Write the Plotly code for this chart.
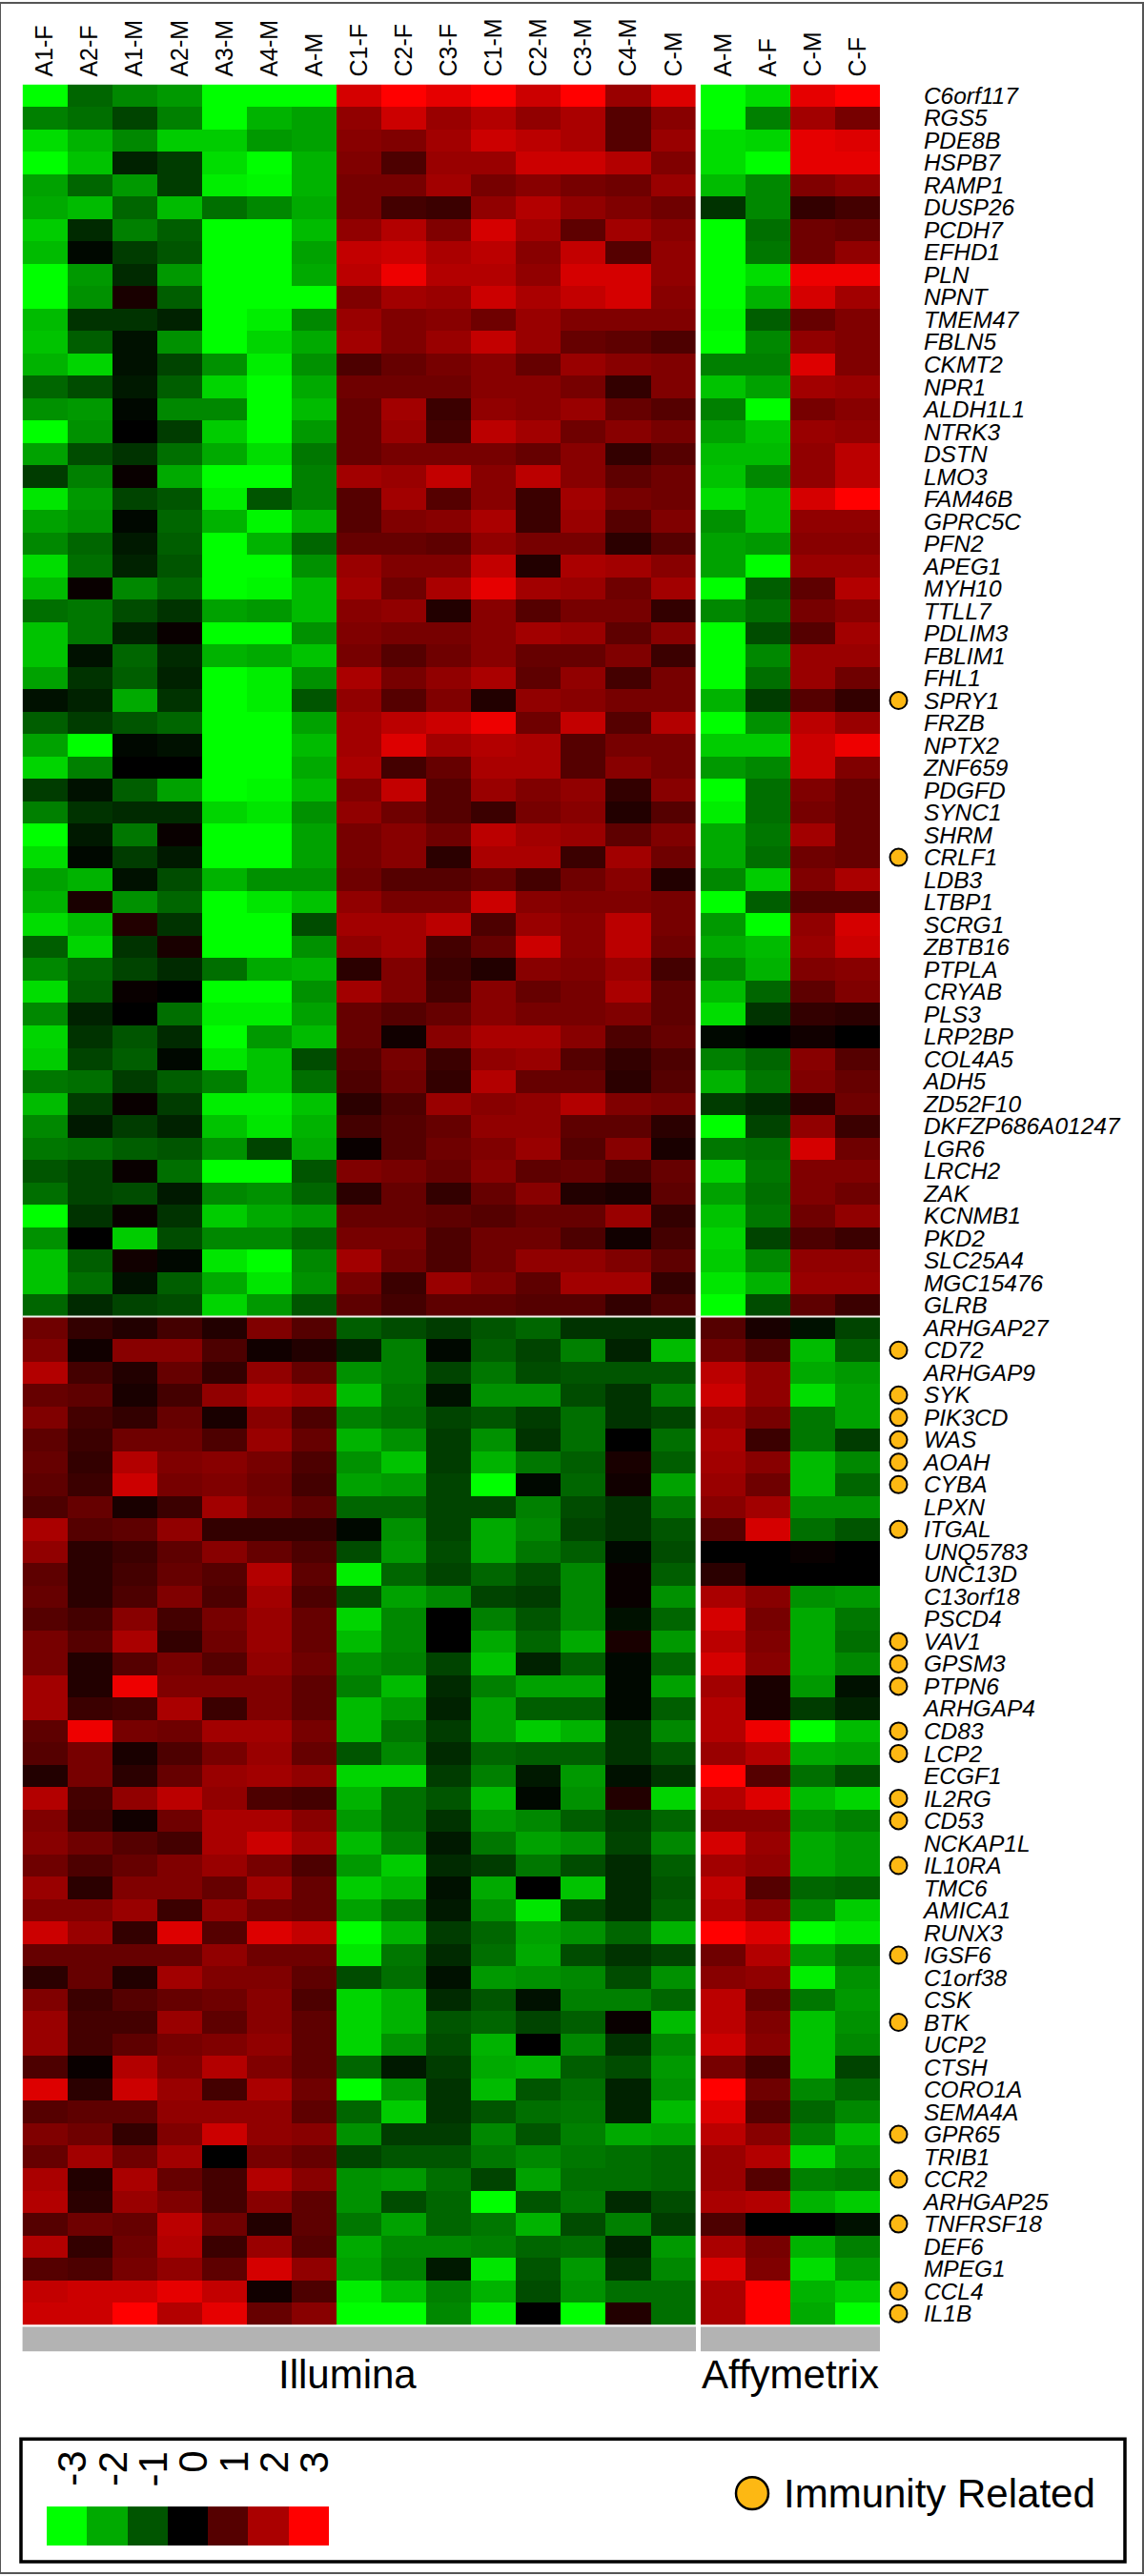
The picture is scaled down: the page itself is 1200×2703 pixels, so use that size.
import plotly.graph_objects as go

W, H = 1200, 2703

illumina_cols = ["A1-F", "A2-F", "A1-M", "A2-M", "A3-M", "A4-M", "A-M", "C1-F", "C2-F", "C3-F", "C1-M", "C2-M", "C3-M", "C4-M", "C-M"]
affy_cols = ["A-M", "A-F", "C-M", "C-F"]

genes_top = ["C6orf117", "RGS5", "PDE8B", "HSPB7", "RAMP1", "DUSP26", "PCDH7", "EFHD1", "PLN", "NPNT", "TMEM47", "FBLN5", "CKMT2", "NPR1", "ALDH1L1", "NTRK3", "DSTN", "LMO3", "FAM46B", "GPRC5C", "PFN2", "APEG1", "MYH10", "TTLL7", "PDLIM3", "FBLIM1", "FHL1", "SPRY1", "FRZB", "NPTX2", "ZNF659", "PDGFD", "SYNC1", "SHRM", "CRLF1", "LDB3", "LTBP1", "SCRG1", "ZBTB16", "PTPLA", "CRYAB", "PLS3", "LRP2BP", "COL4A5", "ADH5", "ZD52F10", "DKFZP686A01247", "LGR6", "LRCH2", "ZAK", "KCNMB1", "PKD2", "SLC25A4", "MGC15476", "GLRB"]
genes_bottom = ["ARHGAP27", "CD72", "ARHGAP9", "SYK", "PIK3CD", "WAS", "AOAH", "CYBA", "LPXN", "ITGAL", "UNQ5783", "UNC13D", "C13orf18", "PSCD4", "VAV1", "GPSM3", "PTPN6", "ARHGAP4", "CD83", "LCP2", "ECGF1", "IL2RG", "CD53", "NCKAP1L", "IL10RA", "TMC6", "AMICA1", "RUNX3", "IGSF6", "C1orf38", "CSK", "BTK", "UCP2", "CTSH", "CORO1A", "SEMA4A", "GPR65", "TRIB1", "CCR2", "ARHGAP25", "TNFRSF18", "DEF6", "MPEG1", "CCL4", "IL1B"]
immunity_genes = ["SPRY1", "CRLF1", "CD72", "SYK", "PIK3CD", "WAS", "AOAH", "CYBA", "ITGAL", "VAV1", "GPSM3", "PTPN6", "CD83", "LCP2", "IL2RG", "CD53", "IL10RA", "IGSF6", "BTK", "GPR65", "CCR2", "TNFRSF18", "CCL4", "IL1B"]

illumina_top = [
[-3,-1.2,-1.6,-1.8,-3,-3,-3,2.5,3,2.7,3,2.4,3,1.8,2.6],
[-1.5,-1.3,-0.8,-1.5,-3,-2.1,-1.9,1.7,2.4,1.8,2.1,1.7,2,1,1.6],
[-2.6,-2.1,-1.6,-2.4,-2.4,-1.8,-1.9,1.6,1.5,1.9,2.4,2.2,2,1,1.8],
[-3,-2.3,-0.4,-0.7,-2.6,-3,-2.1,1.5,0.9,1.8,1.8,2.4,2.4,2.1,1.5],
[-1.9,-1.2,-1.8,-0.7,-2.8,-2.9,-2.1,1.4,1.4,1.9,1.4,1.6,1.4,1.3,1.8],
[-2,-2.2,-1.2,-2.2,-1.3,-1.6,-2,1.4,0.8,0.7,1.7,2.1,1.7,1.5,1.3],
[-2.4,-0.5,-1.5,-1.1,-3,-3,-2.2,1.7,2.1,1.5,2.5,1.9,1.1,1.9,1.6],
[-2.2,-0.1,-0.7,-1,-3,-3,-1.9,2.3,2.4,2,2.2,1.6,2.3,1,1.7],
[-3,-1.8,-0.5,-1.8,-3,-3,-2,2.2,2.8,2.1,2.1,1.7,2.5,2.5,1.7],
[-3,-1.7,0.3,-1.1,-3,-3,-3,1.5,1.9,1.8,2.4,2,2.3,2.5,1.6],
[-2.2,-0.6,-0.6,-0.4,-3,-2.8,-1.6,1.8,1.5,1.6,1.3,1.8,1.5,1.5,1.5],
[-2.3,-1.1,-0.2,-1.7,-3,-2.5,-2,1.9,1.5,1.8,2.3,1.8,1.2,1.1,0.9],
[-2.1,-2.5,-0.2,-0.8,-1.7,-2.8,-1.7,0.9,1.2,1.4,1.6,1.2,1.8,1.6,1.5],
[-1.2,-0.9,-0.3,-1.1,-2.5,-3,-2,1.3,1.3,1.3,1.6,1.6,1.4,0.6,1.5],
[-1.7,-1.8,-0.1,-1.6,-1.6,-3,-2.2,1.2,1.9,0.7,1.7,1.6,1.8,1.2,1],
[-3,-1.7,0,-0.7,-2.4,-3,-1.8,1.2,1.8,0.8,2.2,1.9,1.3,1.6,1.4],
[-1.9,-0.9,-0.6,-1.3,-2,-2.6,-1.4,1.2,1.4,1.4,1.4,1.2,1.6,0.6,1],
[-0.7,-1.5,0.1,-2,-3,-3,-1.5,1.9,1.8,2.3,1.6,2.2,1.6,1.1,1.3],
[-2.7,-1.8,-0.8,-1,-2.8,-1,-1.5,1,1.9,1,1.6,0.7,1.9,1.4,1.3],
[-1.9,-1.7,-0.1,-1.2,-2.1,-2.9,-2.1,1,1.5,1.6,2,0.7,1.8,1,1.5],
[-1.6,-1.2,-0.3,-1.1,-3,-2.1,-1.2,1.2,1.2,1.1,1.7,1.4,1.4,0.5,1],
[-2.6,-1.3,-0.4,-1,-3,-3,-1.7,1.8,1.5,1.5,2.3,0.4,2,1.9,1.6],
[-2.2,0.1,-1.6,-1.2,-3,-2.9,-2.2,1.9,1.3,2,2.7,1.9,1.8,1.3,1.9],
[-1.3,-1.4,-0.9,-0.6,-1.9,-1.8,-2.2,1.6,1.7,0.4,1.6,1,1.4,1.4,0.6],
[-2.3,-1.4,-0.4,0.1,-3,-3,-1.7,1.5,1.4,1.4,1.6,1.9,1.8,1.1,1.6],
[-2.3,-0.2,-1.2,-0.5,-2.1,-2,-2.3,1.4,1,1.3,1.6,1.2,1.2,1.5,0.7],
[-1.9,-0.6,-1.1,-0.4,-3,-2.8,-1.7,2,1.4,1.7,2,1.1,1.7,0.8,1.4],
[-0.2,-0.4,-2,-0.6,-3,-2.8,-1,1.7,1,1.5,0.4,1.7,1.6,1.4,1.4],
[-1.1,-0.7,-1,-1.2,-3,-3,-1.9,1.9,2.2,2.4,2.8,1.3,2.3,1,2.1],
[-1.9,-3,-0.1,-0.2,-3,-3,-2.2,1.9,2.6,1.9,2.1,2,1,1.4,1.4],
[-2.5,-1.5,0,0,-3,-3,-2,2,0.8,1.2,2,2,1,1.6,1.4],
[-0.7,-0.2,-1.1,-1.9,-3,-2.9,-2.2,1.5,2.3,1,1.8,1.5,1.7,0.6,1.6],
[-1.5,-0.6,-0.5,-0.5,-2.5,-2.7,-1.7,1.7,1.3,1,0.7,1.4,1.6,0.4,1],
[-3,-0.3,-1.4,0.1,-3,-3,-1.9,1.4,1.6,1.3,2.2,1.9,1.8,1.1,1.5],
[-2.6,-0.1,-0.7,-0.3,-3,-3,-1.9,1.4,1.6,0.5,2,2,0.7,1.9,1.3],
[-1.9,-2.1,-0.2,-0.9,-2.1,-1.7,-1.7,1.3,1,1,1.2,0.8,1.3,1.6,0.4],
[-2.1,0.3,-1.7,-1.2,-3,-2.7,-2.3,1.7,1.4,1.4,2.4,1.6,1.5,1.5,1.4],
[-2.6,-2.2,0.4,-0.6,-3,-3,-0.9,1.9,1.9,2.2,0.9,1.8,1.6,2.2,1.4],
[-1.1,-2.5,-0.6,0.3,-3,-3,-1.7,1.7,1.9,0.8,1.2,2.4,1.6,2.2,1.3],
[-1.6,-1.2,-0.8,-0.5,-1.3,-2,-2.1,0.5,1.5,0.7,0.4,1.6,1.5,1.8,0.8],
[-2.6,-1.1,0.1,0,-3,-3,-1.7,1.9,1.5,0.8,1.6,1.2,1.4,2,1.1],
[-1.6,-0.4,0,-1.3,-2.8,-2.8,-1.9,1.2,1,1.2,1.6,1.4,1.4,1.5,1.1],
[-2.5,-0.6,-1,-0.5,-3,-1.8,-2.2,1.2,0.2,1.6,2,2,1.6,0.9,1.2],
[-2.4,-0.8,-1.1,-0.1,-2.7,-2.3,-0.9,1,1.4,0.7,1.7,1.8,1,0.6,0.9],
[-1.4,-1.3,-0.7,-1.1,-1.5,-2.3,-1.3,0.9,1.3,0.6,2.1,1.2,1.2,0.5,1],
[-2.2,-0.7,0.1,-0.7,-2.8,-2.8,-2.3,0.5,0.9,1.8,1.6,1.7,2.1,1.5,1.4],
[-1.6,-0.3,-0.7,-0.4,-2.3,-2.7,-2.1,0.8,1,1.2,1.7,1.7,1.1,1.1,0.5],
[-1.4,-1.3,-1.1,-1,-1.7,-0.8,-2,0.1,1,1.3,1.5,1.8,1,1.6,0.3],
[-1,-0.8,0.1,-1.3,-3,-3,-1,1.5,1.4,1.2,1.6,1.1,1.2,0.8,1.2],
[-1.3,-0.8,-0.9,-0.3,-1.6,-1.7,-1.2,0.5,1.2,0.6,1.2,1.6,0.4,0.3,1.1],
[-3,-0.6,0.1,-0.6,-2.4,-2,-1.8,1.2,1.2,1.1,1,1.2,1.2,1.8,0.6],
[-1.7,0,-2.4,-0.9,-1.6,-1.6,-1.2,1.4,1.4,0.9,1.3,1.3,0.9,0.2,0.8],
[-2.3,-1.1,0.2,-0.1,-2.7,-3,-1.6,1.9,1.3,0.9,1.3,1.7,1.7,1.5,1.1],
[-2.3,-1.3,-0.2,-1.1,-2,-2.7,-1.7,1.4,0.7,1.8,1.5,1.1,1.9,1.9,0.6],
[-1.2,-0.5,-0.8,-0.9,-2.5,-1.8,-1,1.1,0.8,1.1,1.1,1,1,0.6,0.9],
]
illumina_bottom = [
[1.3,0.6,0.4,0.8,0.4,1.5,1,-1.1,-0.9,-0.7,-1,-1.2,-0.6,-0.6,-0.6],
[1.5,0.2,1.6,1.6,0.9,0.2,0.4,-0.4,-1.5,-0.1,-1.1,-0.8,-1.5,-0.4,-2.2],
[2.1,0.8,0.4,1.2,0.6,1.7,1.2,-1.7,-1.5,-0.8,-1.4,-0.9,-1,-1,-1],
[1.2,1.1,0.3,0.8,1.7,2.1,1.9,-2.2,-1.4,-0.2,-1.7,-1.7,-0.9,-0.6,-1.5],
[1.5,0.8,0.6,1.2,0.3,1.6,0.9,-1.5,-1.3,-0.8,-1,-0.7,-1.3,-0.6,-0.8],
[1.1,0.7,1.3,1.3,0.9,1.8,1.2,-2.1,-1.7,-0.7,-1.7,-0.6,-1.3,0,-1.3],
[1.2,0.6,2.1,1.5,1.6,1.4,0.9,-1.7,-2.3,-0.7,-2.1,-1.4,-1.1,0.3,-1.1],
[1.1,0.7,2.4,1.4,1.5,1.3,0.8,-1.9,-1.8,-0.8,-3,-0.1,-1.2,0.2,-1.9],
[0.9,1.2,0.3,0.7,1.9,1.4,1.1,-1.2,-1.2,-0.8,-0.8,-1.5,-0.9,-0.6,-1.4],
[2,1,1.1,1.7,0.6,0.6,0.6,-0.1,-1.7,-0.8,-2,-1.6,-0.8,-0.6,-1],
[1.7,0.5,0.7,1.1,1.6,1.2,0.9,-0.9,-1.8,-0.9,-2,-1.4,-1.1,-0.1,-0.9],
[1.1,0.5,0.8,1.2,1,2.1,1.1,-2.8,-1.2,-0.8,-1.2,-0.9,-1.6,0.1,-1.1],
[1.2,0.5,0.9,1.5,0.9,1.9,0.9,-0.9,-1.9,-1.6,-0.8,-0.7,-1.6,0.1,-1.7],
[1,0.8,1.6,0.8,1.4,1.8,1.2,-2.5,-1.6,0,-1.5,-1,-1.6,-0.2,-1.2],
[1.4,1,2,0.6,1.3,1.8,1.2,-2.2,-1.6,0,-2,-1.2,-2,0.3,-1.8],
[1.4,0.4,1,1.4,1,1.7,1.3,-1.7,-1.5,-0.8,-2.3,-0.4,-1.1,-0.1,-1.2],
[1.9,0.4,2.8,1.5,1.5,1.5,1.1,-1.5,-2.2,-0.5,-1.5,-1.9,-1.9,-0.1,-1.9],
[1.9,0.7,0.8,2,0.7,1.5,1.1,-2.2,-1.8,-0.4,-1.9,-1.1,-1.1,-0.1,-1.1],
[1.1,2.8,1.4,1.3,1.9,1.9,1.4,-2.2,-1.4,-0.7,-1.9,-2.4,-2.1,-0.6,-1.6],
[1,1.4,0.3,0.9,1.4,1.8,1.2,-1,-1.6,-0.5,-1.2,-1.1,-1.1,-0.6,-1],
[0.4,1.4,0.5,1.2,1.8,1.9,1.7,-2.5,-2.5,-0.7,-1.5,-0.3,-1.8,-0.2,-0.6],
[2.1,0.8,1.7,2.2,1.7,0.9,0.8,-2.1,-1.3,-1,-2.2,-0.1,-1.7,0.4,-2.5],
[1.5,0.7,0.2,1.3,2,2,1.6,-1.8,-1.3,-0.6,-1.8,-1.6,-1.1,-0.7,-1.2],
[1.6,1.3,1,0.8,2,2.4,1.9,-2.2,-1.5,-0.3,-1.4,-1.9,-1.7,-0.8,-1.6],
[1.3,0.9,1.2,1.5,1.8,1.4,0.9,-1.8,-2.4,-0.5,-0.7,-1.4,-0.9,-0.5,-1.1],
[1.8,0.5,1.5,1.5,1.2,1.9,1.2,-2.4,-2.1,-0.2,-2,0,-2.3,-0.5,-1],
[1.5,1.5,1.8,0.7,1.7,1.3,1.2,-1.9,-1.4,-0.3,-1.7,-2.7,-0.8,-0.5,-1.1],
[2.4,1.8,0.6,2.6,1,2.6,2.3,-3,-2.1,-0.7,-1.2,-1.9,-1.7,-1.2,-2.1],
[1.2,1.2,1.2,1.2,1.7,1.3,1.3,-2.7,-1.4,-0.5,-1.3,-2,-0.9,-0.6,-0.8],
[0.5,1.2,0.4,1.9,1.5,1.5,1.1,-0.9,-1.3,-0.2,-1.8,-1.7,-1.6,-0.9,-1.7],
[1.5,0.7,1,1.2,1.3,1.6,0.9,-2.5,-2.1,-0.5,-1,-0.2,-1.5,-1.5,-1.2],
[1.8,0.8,0.8,1.8,1.1,1.6,1.1,-2.5,-2.1,-1,-1.2,-0.8,-1.1,0.1,-2.2],
[1.8,0.8,1.1,1.4,1.5,1.7,1.1,-2.5,-1.7,-0.9,-2.1,0,-1.6,-0.6,-1.6],
[0.9,0.1,2.1,1.5,2.1,1.5,1.1,-1.2,-0.3,-0.7,-2,-2.1,-1.1,-0.9,-1.8],
[2.6,0.5,2.4,1.8,0.8,2,1.3,-3,-1.8,-0.6,-2.2,-1,-1.3,-0.4,-1.7],
[1,1.1,1.1,1.7,1.7,1.7,1.1,-1.2,-2.4,-0.6,-1,-1.3,-1.4,-0.4,-2.2],
[1.5,1.3,0.6,1.5,2.4,1.7,1.6,-1.7,-0.7,-0.7,-1.6,-1,-1.5,-2,-1.9],
[1.2,1.9,1.3,1.9,0,1.4,1.2,-0.8,-1,-1,-1.4,-1.6,-1.4,-1.3,-1.2],
[2,0.4,2,1.2,0.8,2.1,1.6,-1.7,-1.8,-1.3,-0.8,-1.9,-1.3,-1.3,-1.2],
[2.1,0.5,1.8,1.5,0.8,1.6,1.1,-1.7,-0.9,-1.2,-3,-1,-1.4,-0.5,-0.9],
[1,1.3,1.2,2.2,1.3,0.4,1.1,-1.4,-1.9,-1.2,-1.4,-2.1,-0.9,-1.5,-0.7],
[2.1,0.6,1.3,2.1,0.7,1.8,1,-2,-1.6,-1.6,-1.5,-1.2,-1.3,-0.4,-1.8],
[1,0.9,1.4,1.7,1.1,2.5,1.7,-1.9,-1.5,-0.3,-2.7,-1,-1.8,-0.6,-1.6],
[2.3,2.4,2.4,2.7,2.3,0.2,0.9,-2.8,-2.2,-1.5,-2.1,-0.9,-1.7,-1.3,-1.3],
[2.4,2.4,3,2.1,2.7,1.2,1.6,-3,-3,-1.6,-2.8,0,-3,0.4,-1.3],
]
affy_top = [
[-3,-2.6,2.7,3],[-3,-1.5,1.9,1.4],[-2.6,-2.5,2.7,2.6],[-2.6,-3,2.7,2.7],[-2.2,-1.6,1.5,1.7],
[-0.6,-1.6,0.6,0.8],[-3,-1.3,1.3,1.2],[-3,-1.4,1.3,1.7],[-3,-2.6,2.8,2.8],[-3,-2.1,2.5,1.9],
[-2.9,-1.1,1.2,1.5],[-3,-1.6,1.7,1.5],[-1.5,-1.5,2.6,1.5],[-2.3,-1.9,1.9,1.8],[-1.5,-3,1.4,1.6],
[-1.9,-2.3,1.8,1.7],[-2.2,-2.2,1.7,2.2],[-2.3,-1.6,1.7,2.2],[-2.6,-2.3,2.5,3],[-1.7,-2.3,1.7,1.7],
[-1.9,-1.8,1.6,1.6],[-1.9,-3,1.8,1.8],[-3,-1.1,1.1,2.1],[-1.6,-1.3,1.4,1.6],[-3,-0.9,1,1.9],
[-3,-1.6,1.8,1.8],[-3,-1.3,1.8,1.3],[-2.1,-0.7,1,0.6],[-3,-1.7,2.2,1.8],[-2.4,-2.4,2.4,2.8],
[-1.8,-1.6,2.4,1.5],[-3,-1.3,1.5,1.2],[-2.8,-1.3,1.4,1.2],[-2,-1.4,1.9,1.2],[-2,-1.3,1.3,1.2],
[-1.6,-2.4,1.5,2],[-3,-1.1,1,1],[-1.8,-3,1.7,2.5],[-2,-2.2,1.8,2.4],[-1.6,-2.1,1.5,1.6],
[-2.2,-1.2,1.1,1.5],[-2.6,-0.6,0.6,0.5],[-0.1,0,0.2,0],[-1.5,-1.2,1.6,1],[-2.1,-1.4,1.5,1.2],
[-0.7,-0.5,0.5,1.3],[-3,-0.8,1.7,0.7],[-1.4,-1.3,2.5,1.3],[-2.5,-1.4,1.5,1.5],[-1.9,-1.3,1.5,1.3],
[-2.3,-1.4,1.3,1.7],[-2.5,-0.8,0.9,0.7],[-2.4,-1.6,1.7,1.7],[-2.7,-2.1,1.8,1.8],[-3,-0.9,1.1,0.7],
]
affy_bottom = [
[1,0.3,-0.2,-0.8],[1.3,0.9,-2.2,-1.1],[2.2,1.7,-2,-1.8],[2.4,1.7,-2.6,-1.9],[1.8,1.4,-1.4,-1.9],
[2,0.7,-1.4,-0.7],[1.9,1.6,-2.2,-1.6],[1.8,1.3,-2.2,-1.2],[1.6,1.9,-1.7,-1.7],[1,2.5,-1.3,-1],
[0,0,0.1,0],[0.5,0,0,0],[2,1.6,-1.7,-1.8],[2.5,1.4,-2,-1.4],[2.2,1.5,-2,-1.3],
[2.5,1.6,-2,-1.6],[1.9,0.3,-1.8,-0.2],[2.1,0.3,-0.7,-0.4],[2.1,2.8,-3,-2.2],[1.8,2.1,-2,-1.9],
[3,1,-1.3,-0.9],[2.1,2.6,-2.2,-2.5],[1.6,1.6,-1.7,-1.5],[2.5,1.8,-2,-1.8],[1.9,1.7,-2,-1.8],
[2.3,1,-1.2,-1.1],[2.1,1.6,-1.6,-2.4],[3,2.6,-3,-2.7],[1.3,2.1,-1.8,-1.4],[1.6,1.7,-2.8,-1.7],
[2.2,1.2,-1.4,-1.8],[2.2,1.5,-2.3,-1.7],[2.4,1.6,-2.3,-1.6],[1.4,0.8,-2.3,-0.8],[3,1.3,-1.6,-1.2],
[2.6,1,-1.2,-1.6],[2.2,1.6,-1.5,-2.2],[1.8,2.1,-2.5,-1.8],[1.8,1,-1.5,-1.4],[2,2.1,-2.1,-2.4],
[0.9,0,0,-0.2],[2,1.4,-2.1,-1.5],[2.6,1.5,-2.6,-1.8],[2,3,-2.1,-2.4],[2,3,-2,-3],
]
scale_values = [-3, -2, -1, 0, 1, 2, 3]
scale_labels = ["-3", "-2", "-1", "0", "1", "2", "3"]
panel_names = ["Illumina", "Affymetrix"]
legend_label = "Immunity Related"

FONT = "Liberation Sans, Arial, sans-serif"
GREEN_BLACK_RED = [[0, "#00ff00"], [0.5, "#000000"], [1, "#ff0000"]]
ORANGE = "#fdb813"


def fx(p):
    return p / W


def fy(p):
    return 1 - p / H


genes = genes_top + genes_bottom
TOP, BOTTOM = 86.7, 2441.0
IL_L, IL_R = 23.6, 730.0
AF_L, AF_R = 735.0, 923.0
ROW_RANGE = [len(genes) - 0.5, -0.5]

fig = go.Figure()
fig.add_trace(go.Heatmap(z=illumina_top + illumina_bottom, x=illumina_cols, y=genes, xaxis="x", yaxis="y",
                         colorscale=GREEN_BLACK_RED, zmin=-3, zmax=3, showscale=False))
fig.add_trace(go.Heatmap(z=affy_top + affy_bottom, x=affy_cols, y=genes, xaxis="x2", yaxis="y2",
                         colorscale=GREEN_BLACK_RED, zmin=-3, zmax=3, showscale=False))
fig.add_trace(go.Scatter(x=[0.5] * len(immunity_genes), y=immunity_genes, xaxis="x3", yaxis="y2", mode="markers",
                         marker=dict(size=18, color=ORANGE, line=dict(color="black", width=2)),
                         showlegend=False, cliponaxis=False))
fig.add_trace(go.Heatmap(z=[scale_values], x=scale_labels, y=["scale"], xaxis="x4", yaxis="y4",
                         colorscale=GREEN_BLACK_RED, zmin=-3, zmax=3, showscale=False))

hidden = dict(visible=False, fixedrange=True)
top_axis = dict(side="top", type="category", ticks="outside", ticklen=2, tickcolor="rgba(0,0,0,0)", tickangle=-90,
                tickfont=dict(family=FONT, size=25, color="black"), showgrid=False, zeroline=False, showline=False)
annotations = [
    dict(text=panel_names[0], x=fx(364), y=fy(2493), xref="paper", yref="paper", showarrow=False,
         xanchor="center", yanchor="middle", font=dict(family=FONT, size=42, color="black")),
    dict(text=panel_names[1], x=fx(829), y=fy(2493), xref="paper", yref="paper", showarrow=False,
         xanchor="center", yanchor="middle", font=dict(family=FONT, size=42, color="black")),
    dict(text=legend_label, x=fx(820), y=fy(2618), xref="paper", yref="paper", xanchor="left", yanchor="middle",
         showarrow=False, font=dict(family=FONT, size=42, color="black")),
]
for i, lab in enumerate(scale_labels):
    annotations.append(dict(text=lab, x=i, xref="x4", y=fy(2573), yref="paper", yanchor="top", xanchor="center",
                            xshift=6, textangle=-90, showarrow=False, borderpad=0,
                            font=dict(family=FONT, size=42, color="black")))

shapes = [
    dict(type="rect", xref="paper", yref="paper", x0=fx(0), x1=fx(1199), y0=fy(1), y1=fy(2702),
         line=dict(color="#555555", width=2)),
    dict(type="rect", xref="paper", yref="paper", x0=fx(IL_L), x1=fx(IL_R), y0=fy(2443), y1=fy(2469),
         line_width=0, fillcolor="#b3b3b3"),
    dict(type="rect", xref="paper", yref="paper", x0=fx(AF_L), x1=fx(AF_R), y0=fy(2443), y1=fy(2469),
         line_width=0, fillcolor="#b3b3b3"),
    dict(type="rect", xref="paper", yref="paper", x0=fx(22), x1=fx(1180), y0=fy(2561), y1=fy(2690),
         line=dict(color="black", width=3.5)),
    dict(type="circle", xref="paper", yref="paper", x0=fx(772), x1=fx(806), y0=fy(2601), y1=fy(2635),
         fillcolor=ORANGE, line=dict(color="black", width=2.5)),
    dict(type="line", xref="paper", yref="y", x0=fx(IL_L), x1=fx(AF_R), y0=len(genes_top) - 0.5,
         y1=len(genes_top) - 0.5, line=dict(color="#f4f4ee", width=2), layer="above"),
]

fig.update_layout(
    width=W, height=H, margin=dict(l=0, r=0, t=0, b=0), paper_bgcolor="white", plot_bgcolor="white",
    showlegend=False, annotations=annotations, shapes=shapes,
    xaxis=dict(domain=[fx(IL_L), fx(IL_R)], anchor="y", **top_axis),
    xaxis2=dict(domain=[fx(AF_L), fx(AF_R)], anchor="y2", **top_axis),
    xaxis3=dict(domain=[fx(930), fx(955)], range=[0, 1], anchor="y2", **hidden),
    xaxis4=dict(domain=[fx(49), fx(345)], type="category", range=[-0.5, 6.5], anchor="y4", **hidden),
    yaxis=dict(domain=[fy(BOTTOM), fy(TOP)], type="category", categoryorder="array", categoryarray=genes,
               range=ROW_RANGE, anchor="x", visible=False),
    yaxis2=dict(domain=[fy(BOTTOM), fy(TOP)], type="category", categoryorder="array", categoryarray=genes,
                range=ROW_RANGE, anchor="x2", side="right", ticks="outside", ticklen=40,
                tickcolor="rgba(0,0,0,0)", tickmode="array", tickvals=genes, ticktext=genes,
                tickfont=dict(family=FONT, size=24.5, color="black", style="italic"),
                showgrid=False, zeroline=False, showline=False),
    yaxis4=dict(domain=[fy(2673), fy(2632)], type="category", anchor="x4", **hidden),
)

fig.write_html("out.html", config={"displayModeBar": False},
               post_script="document.body.style.margin='0';document.body.style.overflow='hidden';")
